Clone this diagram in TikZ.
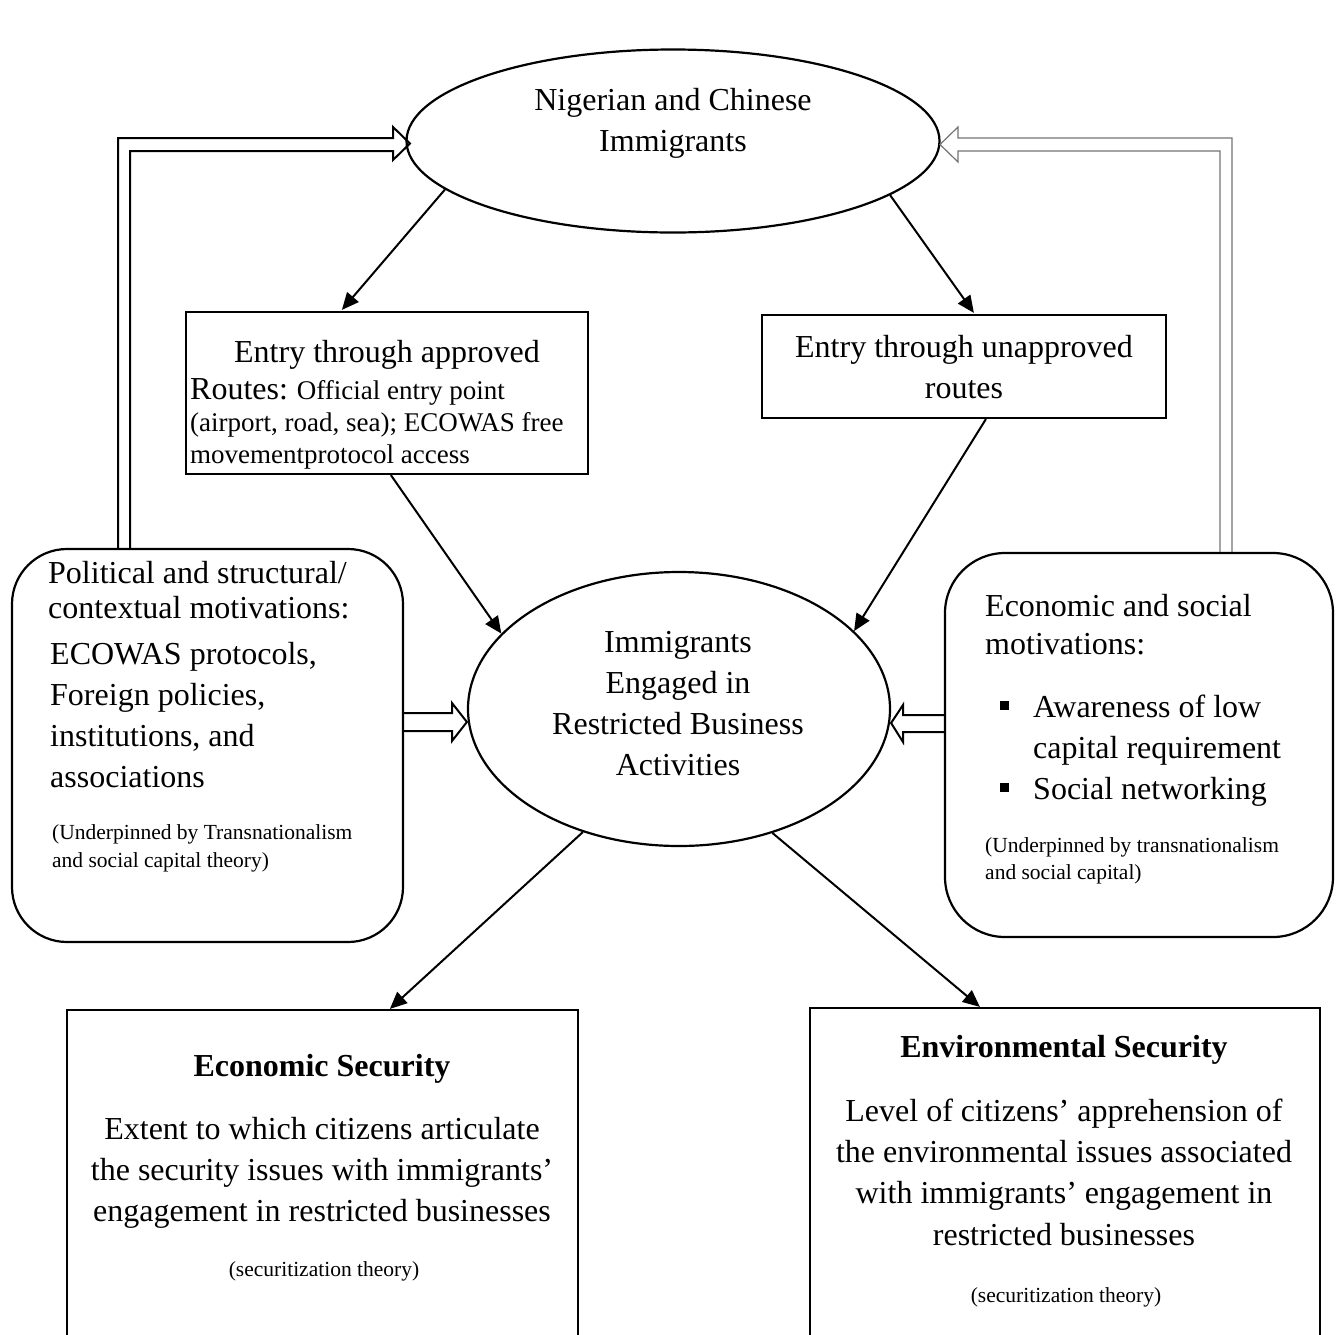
\documentclass[tikz,border=0pt]{standalone}
\usepackage{fontspec}
\setmainfont{Liberation Serif}
\usetikzlibrary{arrows.meta,shapes.geometric,calc}
\begin{document}
\begin{tikzpicture}[x=1pt,y=-1pt,
  shp/.style={draw, line width=2.2pt, inner sep=0pt},
  ell/.style={shp, ellipse},
  bx/.style={shp, rectangle},
  rbx/.style={shp, rectangle, rounded corners=55pt},
  tL/.style={font=\fontsize{32}{40.7}\selectfont, inner sep=0pt},
  tM/.style={font=\fontsize{27}{32}\selectfont, inner sep=0pt},
  tS/.style={font=\fontsize{21.5}{28}\selectfont, inner sep=0pt},
  arr/.style={line width=2pt, -{Triangle[length=17pt,width=15pt]}},
  blk/.style={draw, line width=2pt, line join=miter},
  gblk/.style={draw=black!55, line width=1.2pt, line join=miter},
]
\useasboundingbox (0,0) rectangle (1342,1334);

% ---------- shapes ----------
\node[ell, minimum width=533, minimum height=183] (top) at (673,141) {};
\node[ell, minimum width=422, minimum height=274] (mid) at (679,709) {};
\node[bx, minimum width=402, minimum height=162] (appr) at (387,393) {};
\node[bx, minimum width=404, minimum height=103] (unap) at (964,366.5) {};
\node[rbx, minimum width=391, minimum height=393] (lbox) at (207.5,745.5) {};
\node[rbx, rounded corners=60pt, minimum width=388, minimum height=384] (rbox) at (1139,745) {};
\node[bx, minimum width=511, minimum height=360] (econ) at (322.5,1190) {};
\node[bx, minimum width=510, minimum height=362] (env) at (1065,1189) {};

% ---------- texts (base anchor = baseline of last line) ----------
\node[tL, align=center, anchor=base] (toptxt) at (673,151) {Nigerian and Chinese\\Immigrants};
\node[tL, align=center, anchor=base] (midtxt) at (678,775) {Immigrants\\Engaged in\\Restricted Business\\Activities};
\node[tL, anchor=base] (apprtitle) at (387,362) {Entry through approved};
\node[tM, align=left, anchor=base west] (apprtxt) at (190,463)
  {{\fontsize{32}{32}\selectfont Routes:} Official entry point\\(airport, road, sea); ECOWAS free\\movementprotocol access};
\node[tL, align=center, anchor=base] (unaptxt) at (964,398) {Entry through unapproved\\routes};

\node[tL, font=\fontsize{32}{35.5}\selectfont, align=left, anchor=base west] (ltxt1) at (48,618.5)
  {Political and structural/\\contextual motivations:};
\node[tL, font=\fontsize{32}{41}\selectfont, align=left, anchor=base west] (ltxt2) at (50,787)
  {ECOWAS protocols,\\Foreign policies,\\institutions, and\\associations};
\node[tS, align=left, anchor=base west] (ltxt3) at (52,867)
  {(Underpinned by Transnationalism\\and social capital theory)};

\node[tL, font=\fontsize{32}{38}\selectfont, align=left, anchor=base west] (rtxt1) at (985,654)
  {Economic and social\\motivations:};
\node[tL, font=\fontsize{32}{41}\selectfont, align=left, anchor=base west] (rtxt2) at (1033,799)
  {Awareness of low\\capital requirement\\Social networking};
\node[fill, inner sep=0pt, minimum size=9pt] (bul1) at (1004,705) {};
\node[fill, inner sep=0pt, minimum size=9pt] (bul2) at (1004,787) {};
\node[tS, font=\fontsize{21.5}{27}\selectfont, align=left, anchor=base west] (rtxt3) at (985,879)
  {(Underpinned by transnationalism\\and social capital)};

\node[tL, font=\bfseries\fontsize{32}{40}\selectfont, anchor=base] (econtitle) at (322,1076) {Economic Security};
\node[tL, align=center, anchor=base] (econtxt) at (322,1221)
  {Extent to which citizens articulate\\the security issues with immigrants’\\engagement in restricted businesses};
\node[tS, anchor=base] (econth) at (324,1276) {(securitization theory)};

\node[tL, font=\bfseries\fontsize{32}{40}\selectfont, anchor=base] (envtitle) at (1064,1057) {Environmental Security};
\node[tL, font=\fontsize{32}{41.3}\selectfont, align=center, anchor=base] (envtxt) at (1064,1245)
  {Level of citizens’ apprehension of\\the environmental issues associated\\with immigrants’ engagement in\\restricted businesses};
\node[tS, anchor=base] (envth) at (1066,1302) {(securitization theory)};

% ---------- connectors ----------
\draw[arr] (top.192) -- ($(appr.north west)+(157,-1)$);
\draw[arr] (top.346) -- ($(unap.north west)+(213,-1)$);
\draw[arr] ($(appr.south west)+(206,0)$) -- (mid.157);
\draw[arr] ($(unap.south west)+(225,0)$) -- (mid.24);
\draw[arr] (mid.232) -- ($(econ.north west)+(324,0)$);
\draw[arr] (mid.307) -- ($(env.north west)+(171,0)$);

% ---------- block (hollow) arrows ----------
\coordinate (Ltip) at (410,143.5);
\coordinate (Rtip) at (940,144.5);
\draw[blk] (lbox.north -| 118,0) -- (118,138) -- (393,138) -- (393,127) -- (Ltip)
  -- (393,160) -- (393,151) -- (130,151) -- (lbox.north -| 130,0);
\draw[gblk] (rbox.north -| 1232,0) -- (1232,138) -- (958,138) -- (958,127) -- (Rtip)
  -- (958,162) -- (958,151) -- (1220,151) -- (rbox.north -| 1220,0);
\draw[blk] (lbox.east |- 0,713) -- (452,713) -- (452,703) -- (mid.west |- 0,722)
  -- (452,741) -- (452,731) -- (lbox.east |- 0,731);
\draw[blk] (rbox.west |- 0,715) -- (903,715) -- (903,705) -- (mid.east |- 0,723)
  -- (903,742) -- (903,732) -- (rbox.west |- 0,732);
\end{tikzpicture}
\end{document}
